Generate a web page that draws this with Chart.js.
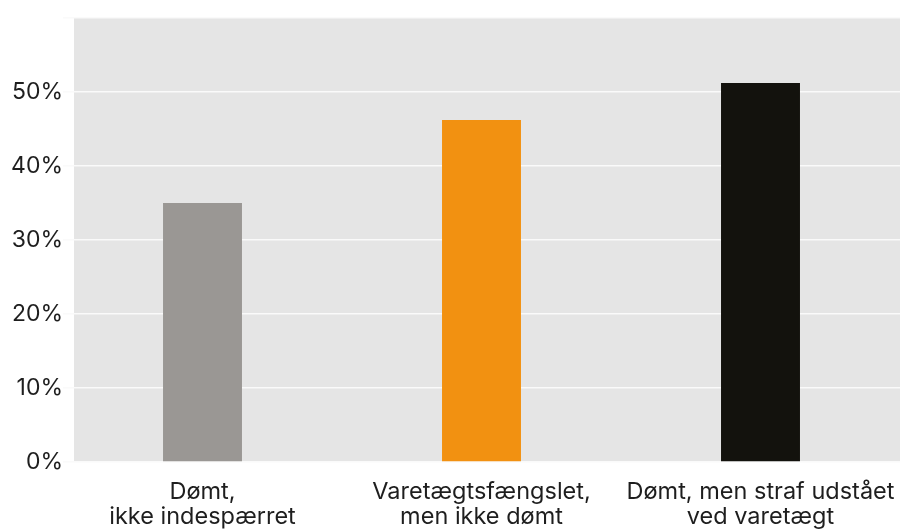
<!DOCTYPE html>
<html>
<head>
<meta charset="utf-8">
<script src="https://cdn.jsdelivr.net/npm/chart.js@4/dist/chart.umd.min.js"></script>
<style>
  html, body { margin: 0; padding: 0; background: #fff; overflow: hidden; }
  #wrap { width: 900px; height: 529px; }
</style>
</head>
<body>
<div id="wrap"><canvas id="chart_1" width="900" height="529"></canvas></div>
<script>
// categories + values
var labels = [
  ['Dømt,', 'ikke indespærret'],
  ['Varetægtsfængslet,', 'men ikke dømt'],
  ['Dømt, men straf udstået', 'ved varetægt']
];
var shares = [35.0, 46.2, 51.2];
var barColors = ['#9a9794', '#f29111', '#13120d'];
var yTicks = [0, 10, 20, 30, 40, 50, 60];

// grey plot background, starts a bit right of the axis
var plotBg = {
  id: 'plotBg',
  beforeDraw: function(chart) {
    var a = chart.chartArea;
    var ctx = chart.ctx;
    ctx.save();
    ctx.fillStyle = '#e5e5e5';
    ctx.fillRect(a.left + 11, a.top, a.right - a.left - 11, a.bottom - a.top);
    ctx.restore();
  }
};

var fontFam = "Inter, 'Noto Sans', sans-serif";

var ctx_1 = document.getElementById('chart_1').getContext('2d');
var chart_1 = new Chart(ctx_1, {
  type: 'bar',
  data: {
    labels: labels,
    datasets: [{
      data: shares,
      backgroundColor: barColors,
      borderWidth: 0,
      categoryPercentage: 1,
      barPercentage: 0.283
    }]
  },
  options: {
    responsive: false,
    animation: false,
    layout: { padding: { left: 0, right: 0, top: 18, bottom: 0 } },
    plugins: { legend: { display: false }, tooltip: { enabled: false } },
    scales: {
      x: {
        afterFit: function(scale) {
          scale.height = 67;
          // let the last label run off the edge like the original
          scale.paddingLeft = 0;
          scale.paddingRight = 0;
        },
        grid: { display: false, drawTicks: false },
        border: { display: false },
        ticks: {
          color: '#1e1e1e',
          font: { family: fontFam, size: 23.5, lineHeight: 1.08 },
          padding: 17,
          maxRotation: 0,
          autoSkip: false
        }
      },
      y: {
        min: 0,
        max: 60,
        afterFit: function(scale) { scale.width = 63; },
        afterBuildTicks: function(scale) {
          scale.ticks = yTicks.map(function(v) { return { value: v }; });
        },
        grid: { color: '#fafafa', lineWidth: 1.5, drawTicks: false },
        border: { display: false },
        ticks: {
          color: '#1e1e1e',
          font: { family: fontFam, size: 23 },
          padding: 0,
          callback: function(v) { return v === 60 ? '' : v + '%'; }
        }
      }
    }
  },
  plugins: [plotBg]
});
</script>
</body>
</html>
